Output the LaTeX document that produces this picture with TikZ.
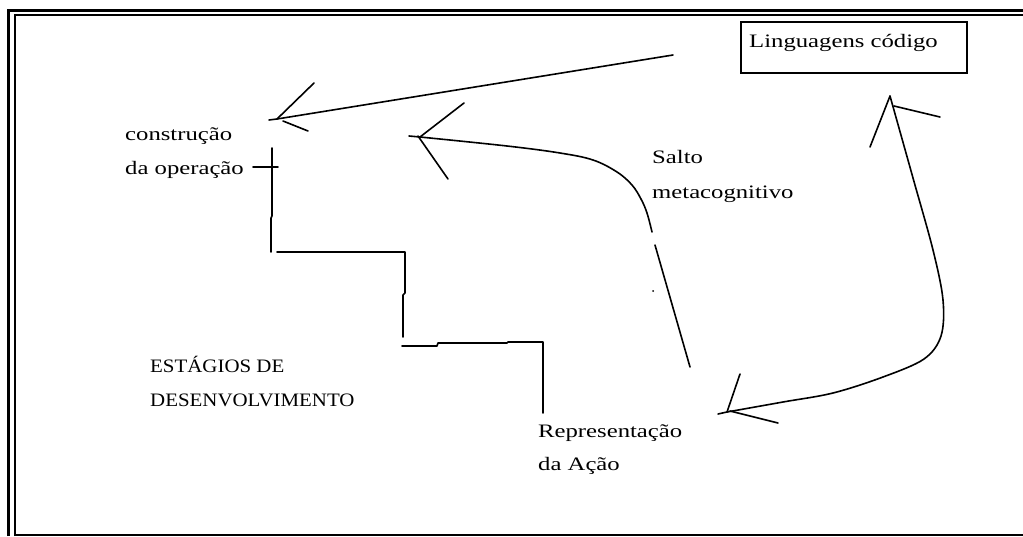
\documentclass[tikz,border=0pt]{standalone}
\usepackage{fontspec}
\setmainfont{Liberation Serif}
\newfontfamily\lowf{Liberation Serif}[FakeStretch=1.3]
\newfontfamily\capf{Liberation Serif}[FakeStretch=1.1]
\tikzset{
  lab/.style={anchor=base west, inner sep=0pt, font=\lowf\fontsize{19}{23}\selectfont},
  caplab/.style={anchor=base west, inner sep=0pt, font=\capf\fontsize{19}{23}\selectfont},
  pen/.style={line width=1.6pt, line cap=round, line join=round},
  frameout/.style={line width=3pt},
  framein/.style={line width=2pt}
}
\begin{document}
\begin{tikzpicture}[x=1pt,y=-1pt]
\useasboundingbox (0,0) rectangle (1023,536);
% frame
\draw[frameout] (8.5,536) -- (8.5,10) -- (1023,10);
\draw[framein] (14.5,536) -- (14.5,14.5) -- (1023,14.5);
\draw[framein] (14.5,535) -- (1023,535);

% texts
\node (lingbox) [draw, line width=1.6pt, anchor=north west, minimum width=226pt, minimum height=51pt, inner sep=0pt] at (740,21) {};
\node (ling) [lab] at (749,47) {Linguagens código};
\node (cons1) [lab] at (125,140) {construção};
\node (cons2) [lab] at (125,174) {da operação};
\node (salto1) [lab] at (652,163) {Salto};
\node (salto2) [lab] at (652,198) {metacognitivo};
\node (est1) [caplab] at (150,372) {ESTÁGIOS DE};
\node (est2) [caplab] at (150,406) {DESENVOLVIMENTO};
\node (rep1) [lab] at (538,437) {Representação};
\node (rep2) [lab] at (538,470) {da Ação};

% arrow 1: Linguagens -> construcao
\coordinate (a1s) at (673,55);
\coordinate (a1t) at (277,119);
\draw[pen] (a1s) -- (a1t) -- (269,120);
\draw[pen] (a1t) -- (314,83);
\draw[pen] (283,121) -- (308,131);

% arrow 2: Salto metacognitivo
\coordinate (a2t) at (420,137);
\draw[pen] (409,136) -- (a2t) -- (464,103);
\draw[pen] (418,136) -- (448,179);
\draw[pen] plot[smooth, tension=0.6] coordinates {(a2t) (507,146) (560,153) (593,160) (617,172) (632,185) (641,199) (647,213) (652,232)};
\draw[pen] (655,245) -- (690,367);
\fill (653,291) circle (1pt);

% arrow 3: double-headed curve
\coordinate (a3u) at (890,96);
\coordinate (a3l) at (727,412);
\draw[pen] plot[smooth, tension=0.55] coordinates {(a3u) (913,178) (933,250) (943,300) (941,336) (924,359) (883,377) (833,393) (783,402) (a3l)};
\draw[pen] (a3u) -- (870,147);
\draw[pen] (894,106) -- (940,117);
\draw[pen] (718,414) -- (a3l) -- (740,374);
\draw[pen] (730,411) -- (778,423);

% stages (stairs)
\draw[pen] (253,167) -- (278,167);
\draw[pen] (272,148) -- (272,216) -- (271,218) -- (271,252);
\draw[pen] (277,252) -- (405,252) -- (405,293) -- (403,295) -- (403,337);
\draw[pen] (402,346) -- (437,346) -- (438,343) -- (507,343) -- (508,342) -- (543,342) -- (543,413);
\end{tikzpicture}
\end{document}
